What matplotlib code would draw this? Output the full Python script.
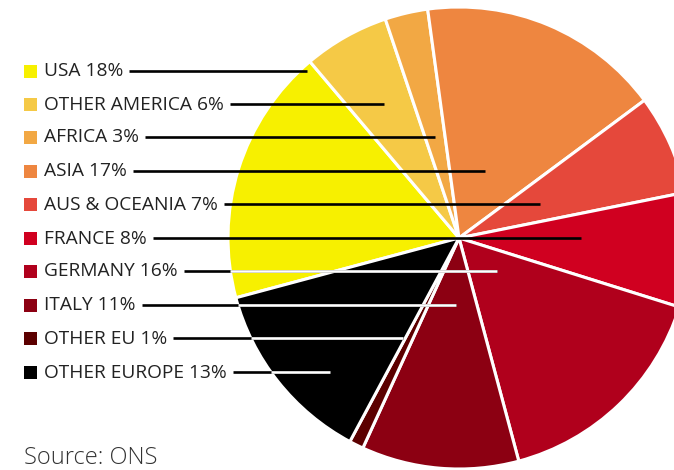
import matplotlib
matplotlib.use('Agg')
import matplotlib.pyplot as plt
import numpy as np

# share of UK exports by destination
labels = ['USA', 'OTHER AMERICA', 'AFRICA', 'ASIA', 'AUS & OCEANIA',
          'FRANCE', 'GERMANY', 'ITALY', 'OTHER EU', 'OTHER EUROPE']
shares = [18, 6, 3, 17, 7, 8, 16, 11, 1, 13]
colors = ['#f7f000', '#f5c946', '#f2a844', '#ee8640', '#e5483b',
          '#d00020', '#b0001c', '#8c0012', '#5c0000', '#000000']

# where each leader line stops (pixels from the left)
leader_end = [307, 384, 435, 485, 540, 581, 497, 456, 403, 330]

W, H = 674, 470
fig = plt.figure(figsize=(W / 100, H / 100), dpi=100)
ax = fig.add_axes([0, 0, 1, 1])

cx, cy, r = 459, H - 238, 231
ax.pie(shares, colors=colors, startangle=195, counterclock=False,
       center=(cx, cy), radius=r,
       wedgeprops=dict(edgecolor='white', linewidth=2.2))
ax.set_xlim(0, W)
ax.set_ylim(0, H)
ax.set_aspect('auto')
ax.axis('off')

rows_y = [71, 104, 137, 171, 204, 238, 271, 305, 338, 372]
texts = []
for lab, s, c, py in zip(labels, shares, colors, rows_y):
    y = H - py
    ax.add_patch(plt.Rectangle((24, y - 6.5), 13, 13, color=c, lw=0))
    t = ax.text(44, y - 0.5, f'{lab} {s}%', fontsize=13.8, color='#222222',
                family='Open Sans', va='center', ha='left')
    texts.append(t)

fig.canvas.draw()
inv = ax.transData.inverted()
for t, py, xe in zip(texts, rows_y, leader_end):
    bb = t.get_window_extent()
    x0 = inv.transform((bb.x1, 0))[0] + 6
    y = H - py
    ax.plot([x0, xe], [y, y], color='black', lw=1.9, solid_capstyle='butt')
    dy = y - cy
    if abs(dy) < r:
        xin = cx - np.sqrt(r ** 2 - dy ** 2)
        # inside the dark slices the leader turns white
        if py > 250 and xe > xin:
            ax.plot([max(xin, x0), xe], [y, y], color='white', lw=1.9,
                    solid_capstyle='butt')

ax.text(24, 0.5, 'Source: ONS', fontsize=17, color='#333333',
        family='Open Sans', fontweight='light', va='bottom', ha='left')

fig.savefig('out.png', dpi=100)
